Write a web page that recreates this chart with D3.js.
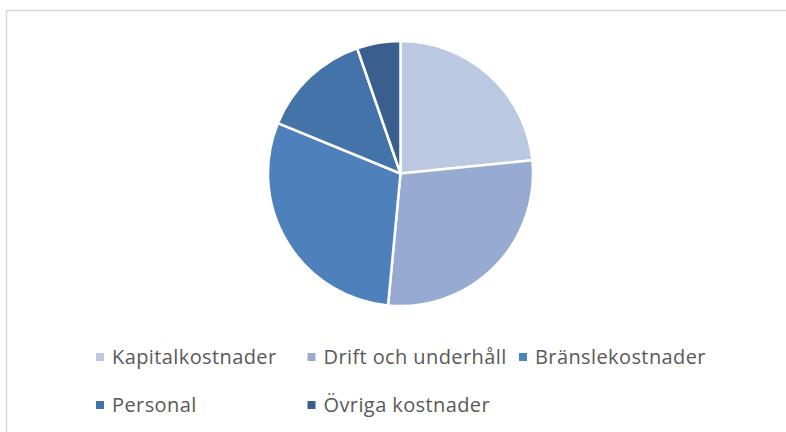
<!DOCTYPE html>
<html>
<head>
<meta charset="utf-8">
<script src="https://cdn.jsdelivr.net/npm/d3@7"></script>
<style>
 body { margin: 0; background: #fff; }
 text { font-family: "Open Sans", "Liberation Sans", sans-serif; fill: #595959; }
</style>
</head>
<body>
<svg width="786" height="432"></svg>
<script>
// Data (shares in %).

var categories = ['Kapitalkostnader', 'Drift och underhåll', 'Bränslekostnader', 'Personal', 'Övriga kostnader'];
var values = [23.4, 28.1, 29.7, 13.5, 5.3];
var colors = ['#BAC8E1', '#96AAD2', '#4E80BC', '#4373A8', '#3A5F8E'];

var svg = d3.select('svg');

// Chart frame, open to the right and bottom like the reference crop.

svg.append('rect')
 .attr('x', 6.5)
 .attr('y', 10.5)
 .attr('width', 800)
 .attr('height', 440)
 .attr('fill', 'none')
 .attr('stroke', '#D9D9D9')
 .attr('stroke-width', 1.5);

// Pie.

var cx = 400.5, cy = 173.5, r = 132.5;

var pie = d3.pie().sort(null).value(function(d) { return d; });
var arc = d3.arc().innerRadius(0).outerRadius(r);

var z = d3.scaleOrdinal().domain(categories).range(colors);

svg.append('g')
 .attr('transform', 'translate(' + cx + ',' + cy + ')')
 .selectAll('path')
 .data(pie(values))
 .enter().append('path')
 .attr('d', arc)
 .attr('fill', function(d, i) { return z(categories[i]); })
 .attr('stroke', '#fff')
 .attr('stroke-width', 2.5)
 .attr('stroke-linejoin', 'round');

// Legend: three per row.

var legend = svg.append('g')
 .selectAll('g')
 .data(categories)
 .enter().append('g')
 .attr('transform', function(d, i) {
  return 'translate(' + (96 + (i % 3) * 211.5) + ',' + (357 + Math.floor(i / 3) * 48) + ')';
 });

legend.append('rect')
 .attr('x', 0)
 .attr('y', -4)
 .attr('width', 8)
 .attr('height', 8)
 .attr('fill', z);

legend.append('text')
 .attr('x', 16)
 .attr('y', 0)
 .attr('dy', '0.35em')
 .style('font-size', '20px')
 .style('letter-spacing', '0.4px')
 .text(function(d) { return d; });
</script>
</body>
</html>
